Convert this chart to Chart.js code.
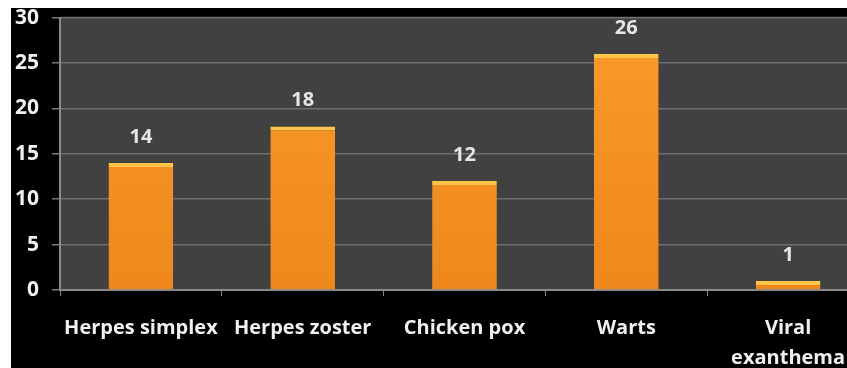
<!DOCTYPE html>
<html>
<head>
<meta charset="utf-8">
<script src="https://cdn.jsdelivr.net/npm/chart.js@4/dist/chart.umd.min.js"></script>
<style>
    html, body { margin: 0; padding: 0; background: #fff; overflow: hidden; }
    #box { position: absolute; left: 11px; top: 8px; width: 900px; height: 360px; background: #000; overflow: hidden; }
    #chart { position: absolute; left: 0; top: -16px; }
</style>
</head>
<body>
<div id="box"><canvas id="chart" width="880" height="376"></canvas></div>
<script>
const categories = ['Herpes simplex', 'Herpes zoster', 'Chicken pox', 'Warts', ['Viral', 'exanthema']];
const cases = [14, 18, 12, 26, 1];
const yTicks = [0, 5, 10, 15, 20, 25, 30];

const FONT = '"Open Sans", Lato, sans-serif';

// grey panel behind the plot area
const plotBackground = {
    id: 'plotBackground',
    beforeDraw(chart) {
        const { ctx, chartArea } = chart;
        ctx.save();
        ctx.fillStyle = '#414141';
        ctx.fillRect(chartArea.left, chartArea.top - 1, chartArea.right - chartArea.left, chartArea.bottom - chartArea.top + 1);
        ctx.restore();
    },
};

// count above each bar
const valueLabels = {
    id: 'valueLabels',
    afterDatasetsDraw(chart) {
        const { ctx } = chart;
        const meta = chart.getDatasetMeta(0);
        ctx.save();
        ctx.font = `bold 20px ${FONT}`;
        ctx.fillStyle = '#e6e6e6';
        ctx.textAlign = 'center';
        ctx.textBaseline = 'middle';
        meta.data.forEach((bar, i) => {
            ctx.fillText(String(cases[i]), bar.x, bar.y - 26);
        });
        ctx.restore();
    },
};

new Chart(document.getElementById('chart'), {
    type: 'bar',
    data: {
        labels: categories,
        datasets: [
            {
                data: cases,
                backgroundColor(context) {
                    const { ctx, chartArea } = context.chart;
                    if (! chartArea) {
                        return '#f5901e';
                    }
                    const g = ctx.createLinearGradient(0, chartArea.top, 0, chartArea.bottom);
                    g.addColorStop(0, '#fb9a2a');
                    g.addColorStop(1, '#ee881c');
                    return g;
                },
                borderColor: '#ffc548',
                borderWidth: { top: 4, left: 0, right: 0, bottom: 0 },
                borderSkipped: false,
                barPercentage: 0.8,
                categoryPercentage: 0.5,
            },
        ],
    },
    options: {
        responsive: false,
        devicePixelRatio: 1,
        animation: false,
        layout: {
            padding: { top: 0, right: 22, left: 0, bottom: 0 },
        },
        plugins: {
            legend: { display: false },
            tooltip: { enabled: false },
        },
        scales: {
            x: {
                offset: true,
                grid: {
                    display: true,
                    drawOnChartArea: false,
                    drawTicks: true,
                    tickLength: 6,
                    color: '#8a8a8a',
                    offset: true,
                },
                border: {
                    color: '#8a8a8a',
                    width: 2,
                },
                ticks: {
                    color: '#f0f0f0',
                    padding: 17,
                    maxRotation: 0,
                    autoSkip: false,
                    font: { family: FONT, size: 20, weight: 'bold', lineHeight: 1.5 },
                },
                afterFit(scale) {
                    scale.height = 78;
                },
            },
            y: {
                min: 0,
                max: 30,
                afterBuildTicks(scale) {
                    scale.ticks = yTicks.map((v) => ({ value: v }));
                },
                grid: {
                    color: '#6f6f6f',
                    lineWidth: 1.5,
                    tickLength: 8,
                    tickColor: '#7a7a7a',
                },
                border: {
                    color: '#8a8a8a',
                    width: 2,
                },
                ticks: {
                    color: '#f0f0f0',
                    padding: 13,
                    font: { family: FONT, size: 21, weight: 'bold' },
                },
                afterFit(scale) {
                    scale.width = 49;
                },
            },
        },
    },
    plugins: [plotBackground, valueLabels],
});
</script>
</body>
</html>
